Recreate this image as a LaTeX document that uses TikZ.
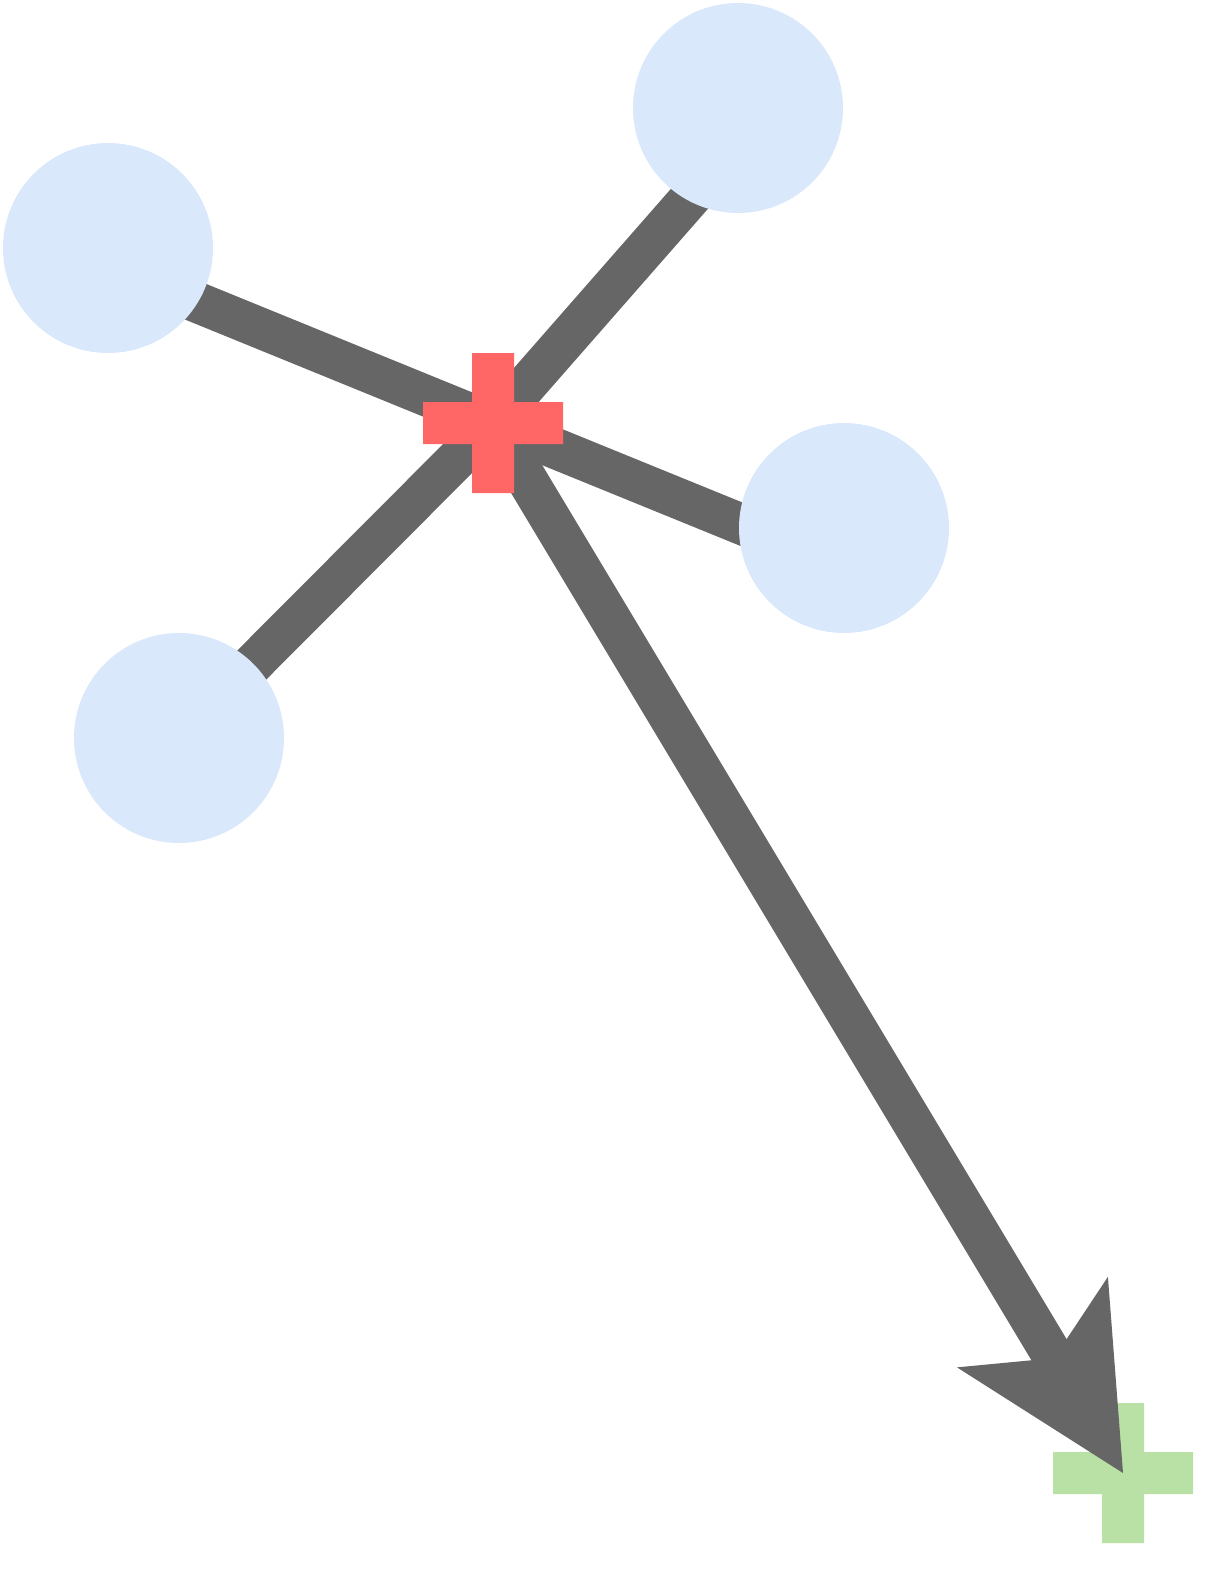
\documentclass[tikz,border=0pt]{standalone}
\usepackage{xcolor}
\usepackage{tikz}
\usetikzlibrary{arrows.meta,calc,backgrounds}

\definecolor{ptblue}{HTML}{DAE8FC}
\definecolor{linkgray}{HTML}{666666}
\definecolor{meanred}{HTML}{FF6666}
\definecolor{goalgreen}{HTML}{B9E0A5}

\begin{document}
\begin{tikzpicture}[
x=0.5pt, y=-0.5pt,
sample/.style={circle, fill=ptblue, minimum size=105pt, inner sep=0pt},
link/.style={draw=linkgray, line width=20.5pt},
push/.style={-{Stealth[length=88pt, width=88pt, inset=21pt, line width=0pt]}, draw=linkgray, line width=20.5pt},
plus/.pic={\path[pic actions] (-70,-21) rectangle (70,21) (-21,-70) rectangle (21,70);}
]
\useasboundingbox (0,0) rectangle (1225,1575);
\node[sample] (west) at (108,248) {};
\node[sample] (north) at (738,108) {};
\node[sample] (east) at (844,528) {};
\node[sample] (south) at (179,738) {};
\coordinate (mean) at (493,423);
\coordinate (goal) at (1123,1473);
\begin{scope}[on background layer]
\pic[fill=goalgreen] at (goal) {plus};
\draw[link] (mean) -- ($(west)+(0,18)$);
\draw[link] (mean) -- ($(north)+(31,0)$);
\draw[link] (mean) -- ($(east)+(0,38)$);
\draw[link] (mean) -- (south.center);
\draw[push] (mean) -- (goal);
\end{scope}
\pic[fill=meanred] at (mean) {plus};
\end{tikzpicture}
\end{document}
